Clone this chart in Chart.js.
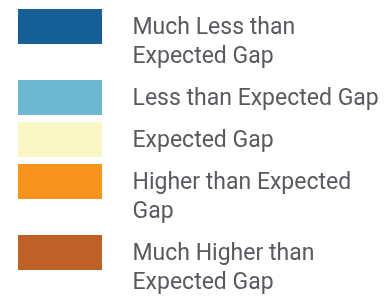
<!DOCTYPE html>
<html>
<head>
<meta charset="utf-8">
<script src="https://cdn.jsdelivr.net/npm/chart.js@4.4.0/dist/chart.umd.min.js"></script>
<style>
  html, body { margin: 0; padding: 0; background: #fff; }
  #wrap { position: relative; width: 390px; height: 296px; }
</style>
</head>
<body>
<div id="wrap"><canvas id="legendChart"></canvas></div>
<script>
// legend categories (one line per entry) and their colours
const gapLabels = [
    ['Much Less than', 'Expected Gap'],
    ['Less than Expected Gap'],
    ['Expected Gap'],
    ['Higher than Expected', 'Gap'],
    ['Much Higher than', 'Expected Gap']
];
const gapColors = ['#155e96', '#6db8d0', '#fbf6c6', '#f7941e', '#bd6128'];

// swatch image: transparent margins so the box sits left of and a bit above the text
const makeSwatch = (color) => {
    const c = document.createElement('canvas');
    c.width = 108;
    c.height = 39;
    const g = c.getContext('2d');
    g.fillStyle = color;
    g.fillRect(5, 0, 84, 35);
    return c;
};

const ctx = document.getElementById('legendChart');

new Chart(ctx, {
    type: 'bar',
    data: {
        labels: [],
        datasets: gapLabels.map((lines, i) => ({
            label: lines.join(' '),
            data: [],
            backgroundColor: gapColors[i]
        }))
    },
    options: {
        responsive: true,
        maintainAspectRatio: false,
        animation: false,
        layout: { padding: { top: 4, left: 0, right: 0, bottom: -30 } },
        scales: {
            x: { display: false },
            y: { display: false }
        },
        plugins: {
            tooltip: { enabled: false },
            legend: {
                position: 'left',
                align: 'start',
                maxWidth: 390,
                labels: {
                    usePointStyle: true,
                    pointStyleWidth: 108,
                    padding: 13,
                    color: '#575a5f',
                    font: { family: 'Roboto', size: 23, lineHeight: '29px' },
                    generateLabels: chart => chart.data.datasets.map((ds, i) => ({
                        text: gapLabels[i],
                        fillStyle: ds.backgroundColor,
                        strokeStyle: ds.backgroundColor,
                        lineWidth: 0,
                        pointStyle: makeSwatch(ds.backgroundColor),
                        hidden: false,
                        datasetIndex: i,
                        fontColor: '#575a5f'
                    }))
                }
            }
        }
    }
});
</script>
</body>
</html>
